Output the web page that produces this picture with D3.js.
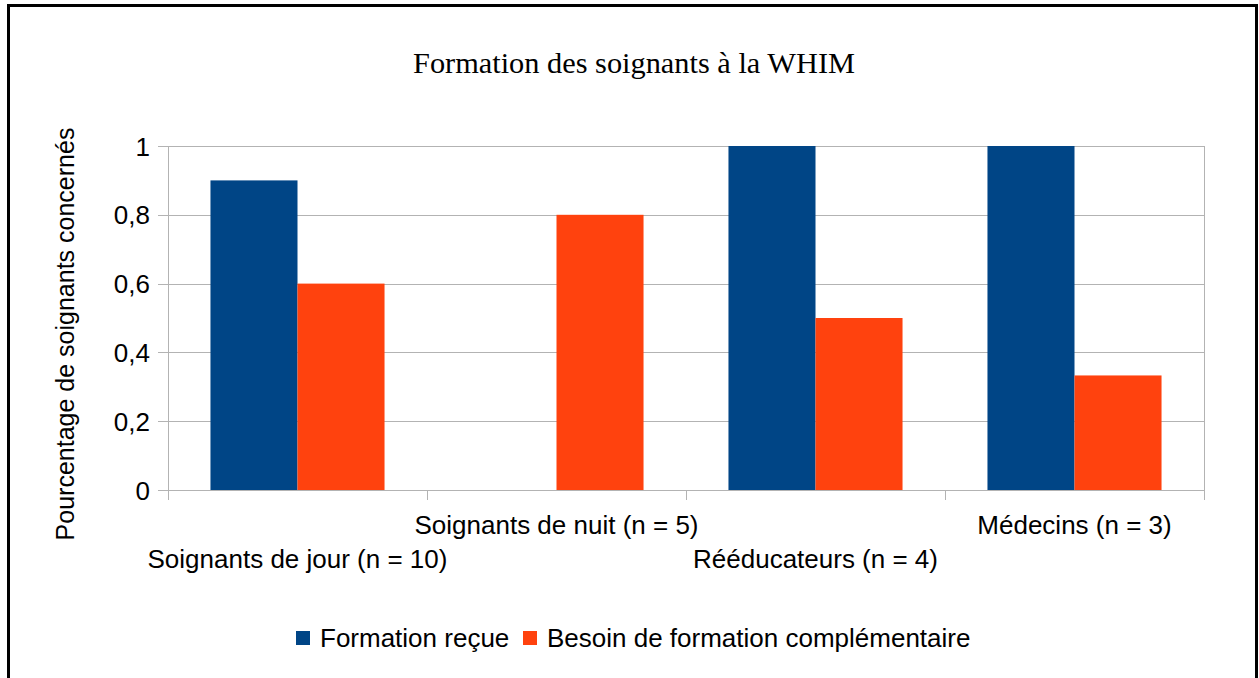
<!DOCTYPE html>
<html>
<head>
<meta charset="utf-8">
<script src="https://cdn.jsdelivr.net/npm/d3@7"></script>
<style>
  body { margin: 0; background: #fff; }
  text { fill: #000; }
</style>
</head>
<body>
<div id="chart"></div>
<script>
// data
var categories = ["Soignants de jour (n = 10)", "Soignants de nuit (n = 5)", "Rééducateurs (n = 4)", "Médecins (n = 3)"];
var seriesNames = ["Formation reçue", "Besoin de formation complémentaire"];
var formationRecue = [0.9, 0, 1, 1];
var besoinFormation = [0.6, 0.8, 0.5, 0.333];
var yTicks = [0, 0.2, 0.4, 0.6, 0.8, 1];
var colors = ["#004586", "#ff420e"];

var W = 1259, H = 678;
var plot = { left: 168, right: 1204, top: 146, bottom: 490 };
var sans = '"Liberation Sans", Arial, sans-serif';

var svg = d3.select('#chart')
  .append('svg')
    .attr('width', W)
    .attr('height', H);

// frame
svg.append('rect')
  .attr('x', 8.5).attr('y', 5.5)
  .attr('width', 1248).attr('height', 690)
  .attr('fill', 'none')
  .attr('stroke', '#000')
  .attr('stroke-width', 3);

// title
svg.append('text')
  .attr('x', 634).attr('y', 73)
  .attr('text-anchor', 'middle')
  .attr('textLength', 442)
  .attr('lengthAdjust', 'spacingAndGlyphs')
  .style('font-family', '"Liberation Serif", serif')
  .style('font-size', '30px')
  .text('Formation des soignants à la WHIM');

var x = d3.scaleBand()
  .domain(categories)
  .range([plot.left, plot.right])
  .paddingInner(0)
  .paddingOuter(0);

var x1 = d3.scaleBand()
  .domain(d3.range(seriesNames.length))
  .range([0, x.bandwidth()])
  .paddingOuter(0.488)
  .paddingInner(0);

var y = d3.scaleLinear()
  .domain([0, 1])
  .range([plot.bottom, plot.top]);

// gridlines
svg.append('g')
  .selectAll('line')
  .data(yTicks)
  .join('line')
    .attr('x1', plot.left - 10)
    .attr('x2', plot.right)
    .attr('y1', d => Math.round(y(d)) + 0.5)
    .attr('y2', d => Math.round(y(d)) + 0.5)
    .attr('stroke', '#b3b3b3')
    .attr('stroke-width', 1);

// plot area left/right edges
svg.append('line')
  .attr('x1', plot.left + 0.5).attr('x2', plot.left + 0.5)
  .attr('y1', plot.top).attr('y2', plot.bottom + 10)
  .attr('stroke', '#b3b3b3');
svg.append('line')
  .attr('x1', plot.right + 0.5).attr('x2', plot.right + 0.5)
  .attr('y1', plot.top).attr('y2', plot.bottom)
  .attr('stroke', '#b3b3b3');

// x ticks at band boundaries
svg.append('g')
  .selectAll('line')
  .data(categories)
  .join('line')
    .attr('x1', d => Math.round(x(d) + x.bandwidth()) + 0.5)
    .attr('x2', d => Math.round(x(d) + x.bandwidth()) + 0.5)
    .attr('y1', plot.bottom)
    .attr('y2', plot.bottom + 10)
    .attr('stroke', '#b3b3b3');

// bars
var series = [formationRecue, besoinFormation];
series.forEach((vals, si) => {
  svg.append('g')
    .selectAll('rect')
    .data(vals)
    .join('rect')
      .attr('x', (d, i) => x(categories[i]) + x1(si))
      .attr('width', x1.bandwidth())
      .attr('y', d => y(d))
      .attr('height', d => y(0) - y(d))
      .attr('fill', colors[si]);
});

// y tick labels
svg.append('g')
  .selectAll('text')
  .data(yTicks)
  .join('text')
    .attr('x', 150)
    .attr('y', d => y(d) + 9.5)
    .attr('text-anchor', 'end')
    .style('font-family', sans)
    .style('font-size', '26px')
    .text(d => String(d).replace('.', ','));

// x labels, staggered
svg.append('g')
  .selectAll('text')
  .data(categories)
  .join('text')
    .attr('x', d => x(d) + x.bandwidth() / 2)
    .attr('y', (d, i) => i % 2 === 0 ? 568 : 534)
    .attr('text-anchor', 'middle')
    .style('font-family', sans)
    .style('font-size', '26px')
    .text(d => d);

// y axis title
svg.append('text')
  .attr('transform', 'translate(74,334) rotate(-90)')
  .attr('text-anchor', 'middle')
  .style('font-family', sans)
  .style('font-size', '25px')
  .text('Pourcentage de soignants concernés');

// legend
var legend = svg.append('g');
var lx = [296, 523];
seriesNames.forEach((name, i) => {
  legend.append('rect')
    .attr('x', lx[i]).attr('y', 631)
    .attr('width', 14).attr('height', 14)
    .attr('fill', colors[i]);
  legend.append('text')
    .attr('x', lx[i] + 24).attr('y', 647)
    .style('font-family', sans)
    .style('font-size', '26px')
    .text(name);
});
</script>
</body>
</html>
